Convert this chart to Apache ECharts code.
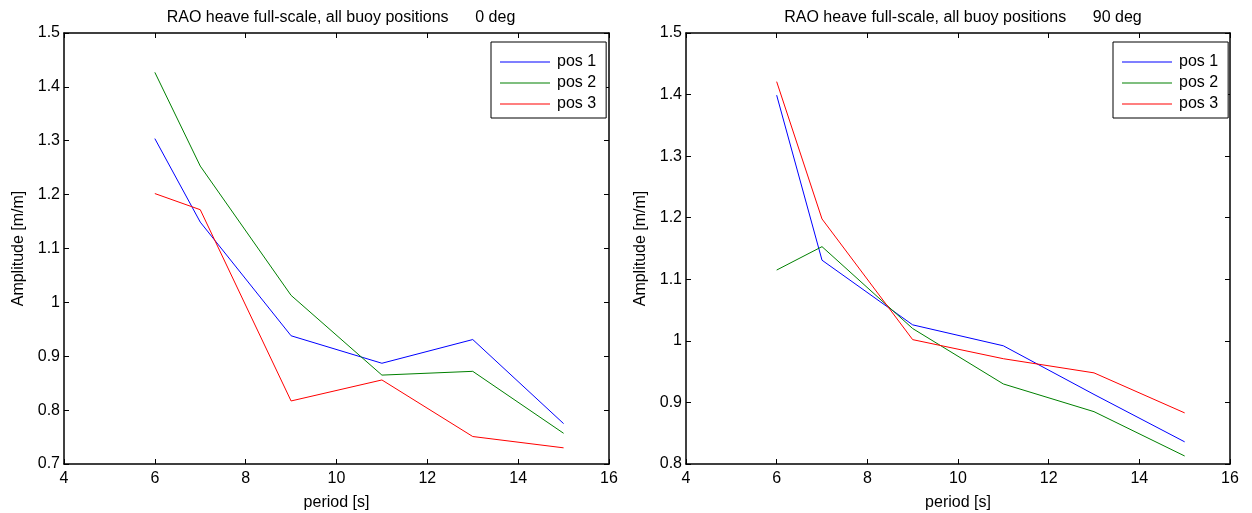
<!DOCTYPE html>
<html>
<head>
<meta charset="utf-8">
<script src="https://cdn.jsdelivr.net/npm/echarts@6/dist/echarts.min.js"></script>
<style>
html,body{margin:0;padding:0;background:#fff;}
#chart{width:1252px;height:513px;}
</style>
</head>
<body>
<div id="chart"></div>
<script>
// ---- data ----
const periods = [6, 7, 9, 11, 13, 15];
const seriesNames = ['pos 1', 'pos 2', 'pos 3'];

const left_pos1 = [1.304, 1.149, 0.938, 0.887, 0.931, 0.775];
const left_pos2 = [1.427, 1.253, 1.013, 0.865, 0.872, 0.757];
const left_pos3 = [1.202, 1.172, 0.817, 0.856, 0.751, 0.730];

const right_pos1 = [1.399, 1.131, 1.026, 0.992, 0.913, 0.836];
const right_pos2 = [1.115, 1.153, 1.020, 0.930, 0.885, 0.813];
const right_pos3 = [1.421, 1.198, 1.002, 0.971, 0.948, 0.883];

const xTicks = [4, 6, 8, 10, 12, 14, 16];
const yTicksLeft = [0.7, 0.8, 0.9, 1.0, 1.1, 1.2, 1.3, 1.4, 1.5];
const yTicksRight = [0.8, 0.9, 1.0, 1.1, 1.2, 1.3, 1.4, 1.5];

const titles = ['RAO heave full-scale, all buoy positions      0 deg',
                'RAO heave full-scale, all buoy positions      90 deg'];
const xName = 'period [s]';
const yName = 'Amplitude [m/m]';

// ---- chart ----
const colors = ['#0000ff', '#008000', '#ff0000'];
const FONT = 'Liberation Sans, Arial, sans-serif';
const grids = [
  {left: 64, top: 33, width: 545, height: 431, outerBoundsMode: 'none', containLabel: false},
  {left: 686, top: 33, width: 544, height: 431, outerBoundsMode: 'none', containLabel: false}
];

function fmt(v){ return String(parseFloat(Number(v).toFixed(2))); }

const xAxes = [], yAxes = [];
[0,1].forEach(function(g){
  const yt = g === 0 ? yTicksLeft : yTicksRight;
  const base = {
    type: 'value', gridIndex: g,
    axisLine: {show: true, onZero: false, lineStyle: {color: '#000', width: 1.5}},
    axisTick: {show: true, inside: true, length: 5, lineStyle: {color: '#000', width: 1}},
    splitLine: {show: false}
  };
  xAxes.push(Object.assign({}, base, {
    position: 'bottom', min: xTicks[0], max: xTicks[xTicks.length-1], interval: xTicks[1]-xTicks[0],
    name: xName, nameLocation: 'middle', nameGap: 31,
    nameTextStyle: {color: '#000', fontSize: 16, fontFamily: FONT},
    axisLabel: {color: '#000', fontSize: 16, fontFamily: FONT, margin: 7, formatter: fmt}
  }));
  xAxes.push(Object.assign({}, base, {
    position: 'top', min: xTicks[0], max: xTicks[xTicks.length-1], interval: xTicks[1]-xTicks[0],
    axisLabel: {show: false}
  }));
  yAxes.push(Object.assign({}, base, {
    position: 'left', min: yt[0], max: yt[yt.length-1], interval: 0.1,
    name: yName, nameLocation: 'middle', nameGap: 37,
    nameTextStyle: {color: '#000', fontSize: 16, fontFamily: FONT},
    axisLabel: {color: '#000', fontSize: 16, fontFamily: FONT, margin: 4, formatter: fmt}
  }));
  yAxes.push(Object.assign({}, base, {
    position: 'right', min: yt[0], max: yt[yt.length-1], interval: 0.1,
    axisLabel: {show: false}
  }));
});

function mk(vals){ return periods.map(function(p,i){ return [p, vals[i]]; }); }
const dataSets = [[left_pos1, left_pos2, left_pos3], [right_pos1, right_pos2, right_pos3]];
const series = [];
[0,1].forEach(function(g){
  dataSets[g].forEach(function(vals, k){
    series.push({
      type: 'line', name: seriesNames[k], xAxisIndex: g*2, yAxisIndex: g*2,
      data: mk(vals), symbol: 'none', showSymbol: false, animation: false,
      lineStyle: {color: colors[k], width: 1}, itemStyle: {color: colors[k]}
    });
  });
});

function legendAt(left){
  return {
    left: left, top: 42, orient: 'vertical', data: seriesNames,
    icon: 'rect', itemWidth: 50, itemHeight: 1, itemGap: 5,
    backgroundColor: '#fff', borderColor: '#000', borderWidth: 1, borderRadius: 0,
    padding: [12, 10, 6, 9],
    textStyle: {color: '#000', fontSize: 16, fontFamily: FONT, padding: [0,0,0,2]},
    selectedMode: false
  };
}

const option = {
  backgroundColor: '#fff',
  animation: false,
  title: [
    {text: titles[0], left: 336, top: 5, textAlign: 'center',
     textStyle: {color: '#000', fontSize: 16, fontWeight: 'normal', fontFamily: FONT}},
    {text: titles[1], left: 958, top: 5, textAlign: 'center',
     textStyle: {color: '#000', fontSize: 16, fontWeight: 'normal', fontFamily: FONT}}
  ],
  legend: [legendAt(491), legendAt(1113)],
  grid: grids,
  xAxis: xAxes,
  yAxis: yAxes,
  series: series
};

const chart = echarts.init(document.getElementById('chart'), null, {renderer: 'canvas'});
chart.setOption(option);
</script>
</body>
</html>
